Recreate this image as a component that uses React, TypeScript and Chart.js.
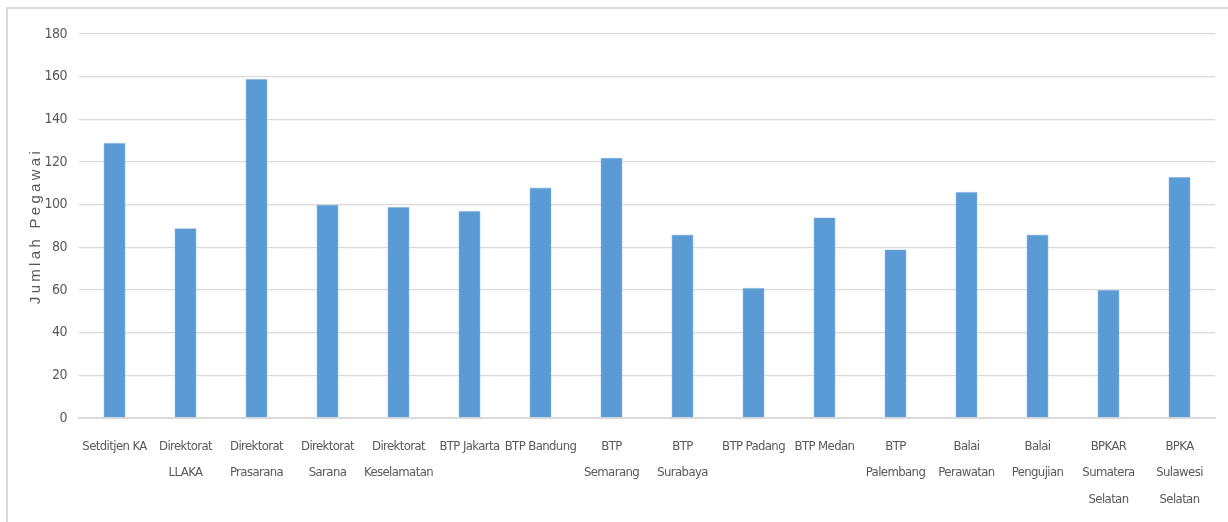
import React, { useEffect, useRef } from "react";
import { Chart, registerables } from "chart.js";

Chart.register(...registerables);

const categories: (string | string[])[] = [
  "Setditjen KA",
  ["Direktorat", "LLAKA"],
  ["Direktorat", "Prasarana"],
  ["Direktorat", "Sarana"],
  ["Direktorat", "Keselamatan"],
  "BTP Jakarta",
  "BTP Bandung",
  ["BTP", "Semarang"],
  ["BTP", "Surabaya"],
  "BTP Padang",
  "BTP Medan",
  ["BTP", "Palembang"],
  ["Balai", "Perawatan"],
  ["Balai", "Pengujian"],
  ["BPKAR", "Sumatera", "Selatan"],
  ["BPKA", "Sulawesi", "Selatan"],
];

const jumlahPegawai: number[] = [129, 89, 159, 100, 99, 97, 108, 122, 86, 61, 94, 79, 106, 86, 60, 113];

const yTickMin = 0;
const yTickMax = 180;
const yTickStep = 20;
const yTitle = "Jumlah Pegawai";

const TEXT = "#595959";
const GRID = "#d9d9d9";
const BAR = "#5b9bd5";
const FONT = "'Liberation Sans Narrow', 'DejaVu Sans Condensed', 'Liberation Sans', sans-serif";

function patch(scale: any, method: string, spacing: string, ctx: any) {
  const key = "__patched_" + method;
  if (!scale || scale[key]) return;
  const orig = scale[method].bind(scale);
  scale[method] = function (...args: any[]) {
    ctx.save();
    try {
      ctx.letterSpacing = spacing;
    } catch (e) {}
    orig(...args);
    ctx.restore();
  };
  scale[key] = true;
}

const spacingPlugin = {
  id: "spacing",
  beforeDraw(chart: any) {
    patch(chart.scales.y, "drawTitle", "3.3px", chart.ctx);
    patch(chart.scales.y, "drawLabels", "-0.5px", chart.ctx);
    patch(chart.scales.x, "drawLabels", "-0.6px", chart.ctx);
  },
};

export default function App() {
  const ref = useRef<HTMLCanvasElement | null>(null);

  useEffect(() => {
    if (!ref.current) return;
    const chart = new Chart(ref.current, {
      type: "bar",
      data: {
        labels: categories,
        datasets: [
          {
            label: yTitle,
            data: jumlahPegawai,
            backgroundColor: BAR,
            borderColor: "#8fbbe6",
            borderWidth: 0.6,
            barPercentage: 0.31,
            categoryPercentage: 1,
          },
        ],
      },
      options: {
        animation: false,
        responsive: false,
        maintainAspectRatio: false,
        layout: { padding: { left: 0, right: 13, top: 34, bottom: 0 } },
        plugins: {
          legend: { display: false },
          tooltip: { enabled: false },
        },
        scales: {
          x: {
            afterFit(scale: any) {
              scale.height = 104;
            },
            grid: { display: false, drawTicks: false },
            border: { display: true, color: GRID, width: 2 },
            ticks: {
              color: TEXT,
              font: { family: FONT, size: 13, lineHeight: 2.04 },
              padding: 15,
              autoSkip: false,
              maxRotation: 0,
              minRotation: 0,
            },
          },
          y: {
            min: yTickMin,
            max: yTickMax,
            afterFit(scale: any) {
              scale.width = 79;
            },
            grid: { color: GRID, lineWidth: 1.3, drawTicks: false },
            border: { display: false },
            ticks: {
              stepSize: yTickStep,
              color: TEXT,
              font: { family: FONT, size: 14 },
              padding: 12,
            },
            title: {
              display: true,
              text: yTitle,
              color: TEXT,
              font: { family: "'Liberation Sans', Arial, sans-serif", size: 15 },
              padding: { top: 27, bottom: 0 },
            },
          },
        },
      },
      plugins: [spacingPlugin],
    });
    return () => chart.destroy();
  }, []);

  return (
    <div style={{ position: "fixed", left: 0, top: 0, width: 1228, height: 522, background: "#fff" }}>
      <div
        style={{
          position: "absolute",
          left: 6,
          top: 7,
          right: 0,
          bottom: 0,
          borderTop: "2px solid #d9d9d9",
          borderLeft: "2px solid #d9d9d9",
        }}
      />
      <canvas ref={ref} width={1228} height={522} style={{ position: "absolute", left: 0, top: 0, width: 1228, height: 522 }} />
    </div>
  );
}
